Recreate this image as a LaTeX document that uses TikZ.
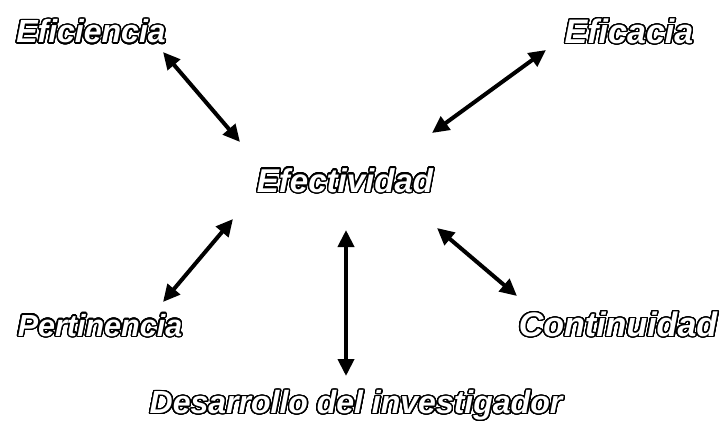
\documentclass[tikz,border=0pt]{standalone}
\usepackage{fontspec}
\setmainfont{Liberation Sans}
\usepackage{contour}
\usetikzlibrary{arrows.meta}
\contourlength{1.4pt}
\contournumber{32}
\tikzset{
  lbl/.style={inner sep=0pt, text=white, font=\bfseries\itshape},
  dbl/.style={line width=4pt, {Triangle[length=17pt,width=16pt]}-{Triangle[length=17pt,width=16pt]}}
}
\newcommand\olt[1]{\contour{black}{#1}}
\begin{document}
\begin{tikzpicture}[x=1pt,y=-1pt]
\useasboundingbox[fill=white] (0,0) rectangle (720,426);
\node[lbl, font=\fontsize{32}{36}\bfseries\itshape\selectfont] (efi) at (91,32) {\olt{Eficiencia}};
\node[lbl, font=\fontsize{34}{38}\bfseries\itshape\selectfont] (efc) at (629,32) {\olt{Eficacia}};
\node[lbl, font=\fontsize{33}{37}\bfseries\itshape\selectfont] (efe) at (345,181) {\olt{Efectividad}};
\node[lbl, font=\fontsize{30.5}{34}\bfseries\itshape\selectfont] (per) at (100,326) {\olt{Pertinencia}};
\node[lbl, font=\fontsize{34}{38}\bfseries\itshape\selectfont] (con) at (618,325) {\olt{Continuidad}};
\node[lbl, font=\fontsize{32}{36}\bfseries\itshape\selectfont] (des) at (356,406) {\olt{Desarrollo del investigador}};
\coordinate (a1) at (163,52);  \coordinate (b1) at (240,142);
\coordinate (a2) at (546,50);  \coordinate (b2) at (432,133);
\coordinate (a3) at (233,219); \coordinate (b3) at (163,302);
\coordinate (a4) at (346,230); \coordinate (b4) at (346,376);
\coordinate (a5) at (437,228); \coordinate (b5) at (517,296);
\draw[dbl] (a1) -- (b1);
\draw[dbl] (a2) -- (b2);
\draw[dbl] (a3) -- (b3);
\draw[dbl] (a4) -- (b4);
\draw[dbl] (a5) -- (b5);
\end{tikzpicture}
\end{document}
